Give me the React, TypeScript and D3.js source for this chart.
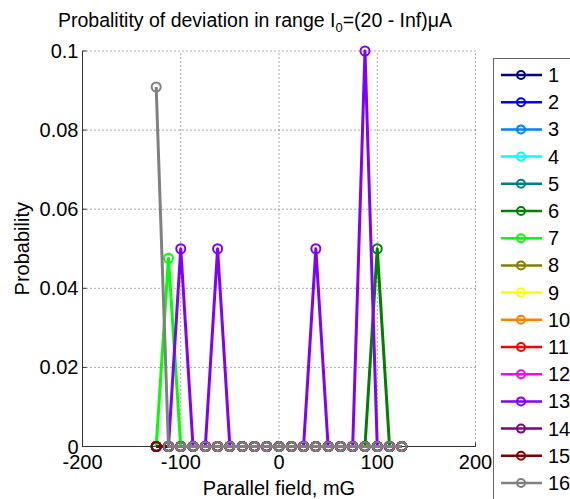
import React from "react";
import * as d3 from "d3";

const xGrid: number[] = [-125, -112.5, -100, -87.5, -75, -62.5, -50, -37.5, -25, -12.5, 0, 12.5, 25, 37.5, 50, 62.5, 75, 87.5, 100, 112.5, 125];

const seriesNames: string[] = ["1","2","3","4","5","6","7","8","9","10","11","12","13","14","15","16"];
const seriesColors: string[] = ["#000080","#0000ff","#0080ff","#00ffff","#008080","#008000","#00ff00","#808000","#ffff00","#ff8000","#ff0000","#ff00ff","#8000ff","#800080","#800000","#808080"];

const zeros = (): number[] => xGrid.map(() => 0);
const s6: number[] = [0,0,0,0,0,0,0,0,0,0,0,0,0,0,0,0,0,0,0.05,0,0];
const s7: number[] = [0,0.0476,0,0,0,0,0,0,0,0,0,0,0,0,0,0,0,0,0,0,0];
const s13: number[] = [0,0,0.05,0,0,0.05,0,0,0,0,0,0,0,0.05,0,0,0,0.1,0,0,0];
const s16: number[] = [0.0909,0,0,0,0,0,0,0,0,0,0,0,0,0,0,0,0,0,0,0,0];

const seriesValues: number[][] = seriesNames.map((_, i) => {
  if (i === 5) return s6;
  if (i === 6) return s7;
  if (i === 12) return s13;
  if (i === 15) return s16;
  return zeros();
});

const xTicks: number[] = [-200, -100, 0, 100, 200];
const yTicks: number[] = [0, 0.02, 0.04, 0.06, 0.08, 0.1];

const FONT = "'Liberation Sans', Arial, sans-serif";

export default function App() {
  const W = 570, H = 499;
  const x = d3.scaleLinear().domain([-200, 200]).range([82.5, 475.5]);
  const y = d3.scaleLinear().domain([0, 0.1]).range([446.5, 51]);
  const line = d3.line<number>().x((_, i) => x(xGrid[i])).y((v) => y(v));
  const axisColor = "#333";
  const legTop = 58;
  const legStep = 27.2;
  const fs = 20;
  return (
    <div style={{ position: "absolute", left: 0, top: 0 }}>
      <svg width={W} height={H} style={{ display: "block", background: "#fff" }} fontFamily={FONT}>
        <rect x={0} y={0} width={W} height={H} fill="#fff" />
        {/* grid */}
        {xTicks.map((t) => (
          <line key={"gx" + t} x1={x(t)} x2={x(t)} y1={y(0)} y2={y(0.1)} stroke="#555" strokeWidth={1} strokeDasharray="1,3" />
        ))}
        {yTicks.map((t) => (
          <line key={"gy" + t} x1={x(-200)} x2={x(200)} y1={y(t)} y2={y(t)} stroke="#555" strokeWidth={1} strokeDasharray="1,3" />
        ))}
        {/* axes */}
        <line x1={x(-200)} x2={x(200)} y1={y(0)} y2={y(0)} stroke={axisColor} strokeWidth={1} />
        <line x1={x(-200)} x2={x(-200)} y1={y(0)} y2={y(0.1)} stroke={axisColor} strokeWidth={1} />
        {xTicks.map((t) => (
          <g key={"xt" + t}>
            <line x1={x(t)} x2={x(t)} y1={y(0)} y2={y(0) - 4} stroke={axisColor} />
            <text x={x(t)} y={y(0) + 22} textAnchor="middle" fontSize={fs} fill="#000">{t}</text>
          </g>
        ))}
        {yTicks.map((t) => (
          <g key={"yt" + t}>
            <line x1={x(-200)} x2={x(-200) + 4} y1={y(t)} y2={y(t)} stroke={axisColor} />
            <text x={x(-200) - 4} y={y(t) + 7} textAnchor="end" fontSize={fs} fill="#000">{t === 0 ? "0" : String(t)}</text>
          </g>
        ))}
        {/* series */}
        {seriesValues.map((vals, si) => (
          <g key={"s" + si}>
            <path d={line(vals) || ""} fill="none" stroke={seriesColors[si]} strokeWidth={3} strokeLinejoin="round" />
            {vals.map((v, i) => (
              <circle key={i} cx={x(xGrid[i])} cy={y(v)} r={4.5} fill="none" stroke={seriesColors[si]} strokeWidth={2} />
            ))}
          </g>
        ))}
        {/* labels */}
        <text x={255} y={27} textAnchor="middle" fontSize={19.5} fill="#000">
          Probalitity of deviation in range I<tspan fontSize={13} dy={5}>0</tspan><tspan dy={-5}>=(20 - Inf)μA</tspan>
        </text>
        <text x={x(0)} y={495} textAnchor="middle" fontSize={fs} fill="#000">Parallel field, mG</text>
        <text transform={`translate(29, ${(y(0) + y(0.1)) / 2}) rotate(-90)`} textAnchor="middle" fontSize={fs} fill="#000">Probability</text>
        {/* legend */}
        <rect x={493.5} y={legTop + 0.5} width={100} height={500} fill="#fff" stroke="#666" strokeWidth={1} />
        {seriesNames.map((n, i) => {
          const cy = 75 + legStep * i;
          return (
            <g key={"l" + i}>
              <line x1={501} x2={542} y1={cy} y2={cy} stroke={seriesColors[i]} strokeWidth={2.5} />
              <circle cx={521} cy={cy} r={4} fill="none" stroke={seriesColors[i]} strokeWidth={2} />
              <text x={548} y={cy + 7} fontSize={fs} fill="#000">{n}</text>
            </g>
          );
        })}
      </svg>
    </div>
  );
}
